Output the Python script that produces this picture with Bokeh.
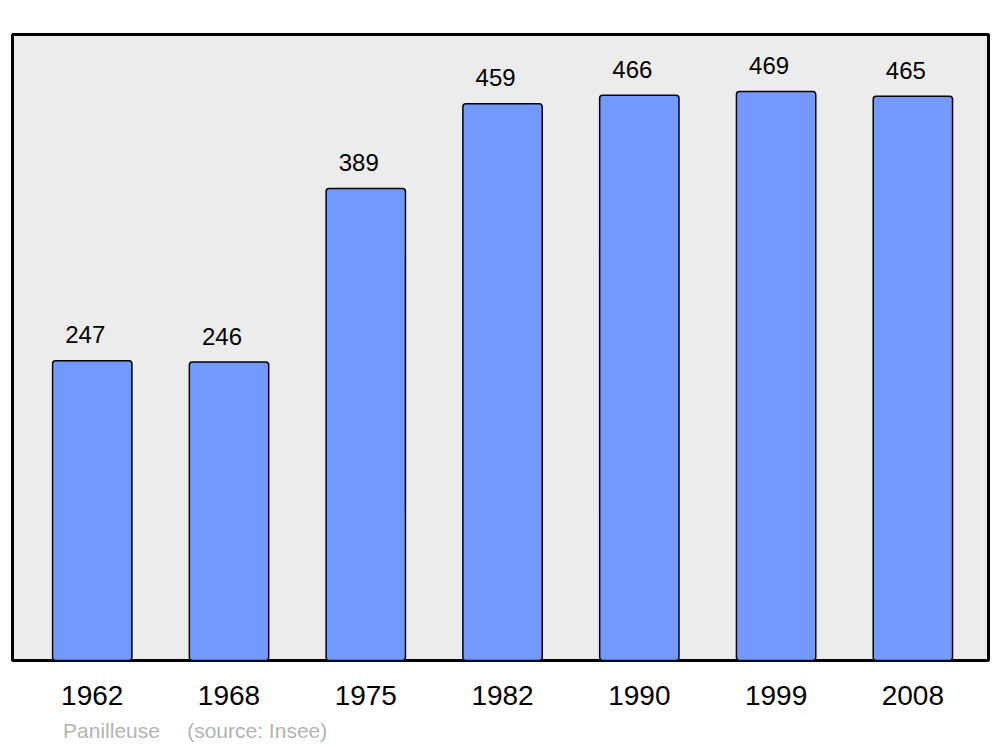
from bokeh.plotting import figure
from bokeh.models import ColumnDataSource, FixedTicker, LinearAxis, Range1d
from bokeh.core.properties import value
from bokeh.embed import file_html
from bokeh.resources import INLINE

years = ["1962", "1968", "1975", "1982", "1990", "1999", "2008"]
population = [247, 246, 389, 459, 466, 469, 465]
source_parts = ["Panilleuse", "(source: Insee)"]

idx = list(range(len(years)))
src = ColumnDataSource(dict(x=idx, top=population, label=[str(v) for v in population]))

p = figure(width=992, height=745, output_backend="svg", toolbar_location=None,
           x_range=Range1d(-0.583, 6.553), y_range=Range1d(0, 516),
           min_border_left=12, min_border_right=4, min_border_top=34, min_border_bottom=85)
p.extra_x_ranges = {"src": Range1d(-0.6795, 6.019)}
p.background_fill_color = "#ececec"
p.border_fill_color = "white"
p.outline_line_color = "black"
p.outline_line_width = 3
p.grid.visible = False
p.yaxis.visible = False

p.vbar(x="x", top="top", width=0.58, bottom=0, source=src,
       fill_color="#7399ff", line_color="black", line_width=1.5, border_radius=3)

p.text(x="x", y="top", text="label", source=src, x_offset=-7, y_offset=-26,
       text_align="center", text_baseline="alphabetic",
       text_font=value("Liberation Sans"), text_font_size="24px", text_color="black")

ax = p.xaxis[0]
ax.ticker = FixedTicker(ticks=idx)
ax.major_label_overrides = {i: y for i, y in zip(idx, years)}
ax.axis_line_color = None
ax.major_tick_line_color = None
ax.minor_tick_line_color = None
ax.major_tick_out = 0
ax.major_tick_in = 0
ax.major_label_standoff = 25
ax.major_label_text_font = "Liberation Sans"
ax.major_label_text_font_size = "28px"
ax.major_label_text_color = "black"

src_pos = [0, 1]
ax2 = LinearAxis(x_range_name="src", ticker=FixedTicker(ticks=src_pos),
                 major_label_overrides={k: t for k, t in zip(src_pos, source_parts)})
ax2.axis_line_color = None
ax2.major_tick_line_color = None
ax2.minor_tick_line_color = None
ax2.major_tick_out = 0
ax2.major_tick_in = 0
ax2.major_label_standoff = 11
ax2.major_label_text_font = "Liberation Sans"
ax2.major_label_text_font_size = "21px"
ax2.major_label_text_color = "#b3b3b3"
p.add_layout(ax2, "below")

open("out.html", "w").write(file_html(p, INLINE))
